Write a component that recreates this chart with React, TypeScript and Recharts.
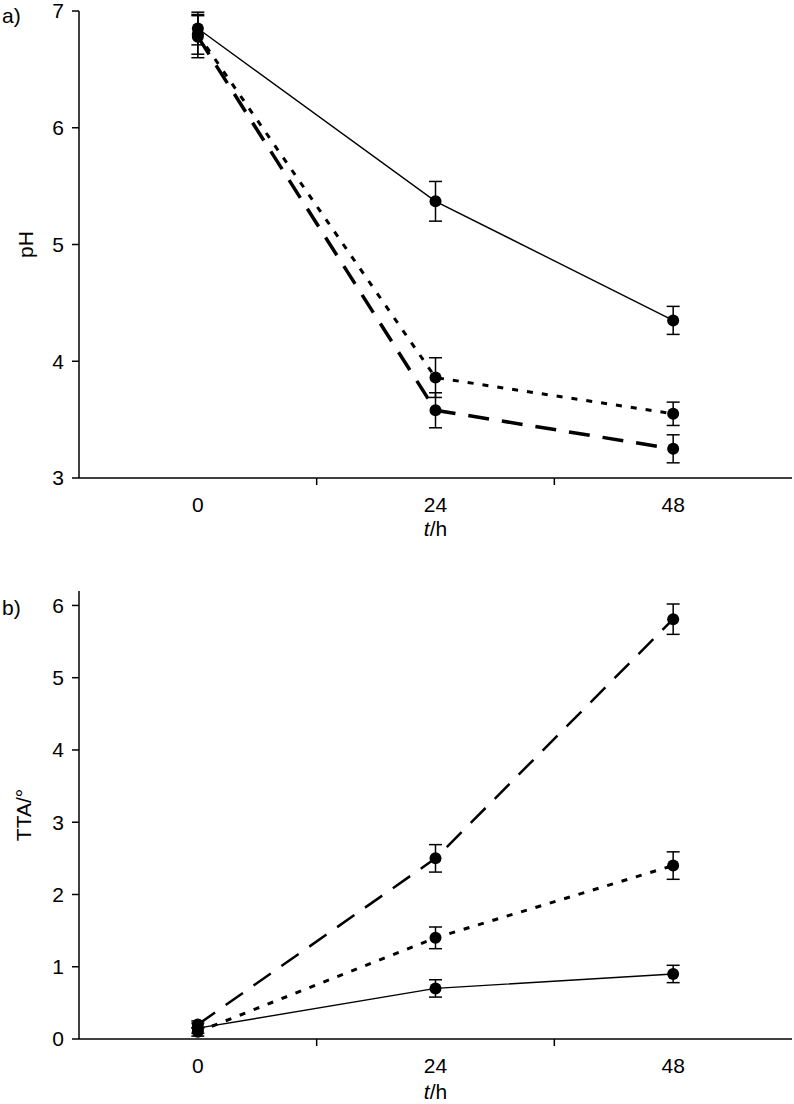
import React from 'react';
import { LineChart, Line, XAxis, YAxis, ErrorBar, Label } from 'recharts';

// ---- data ----
const times = [0, 24, 48];
const xTicks = [0, 12, 24, 36, 48];
const xLabeled = [0, 24, 48];

const phSolid = [6.85, 5.37, 4.35];
const phSolidErr = [0.14, 0.17, 0.12];
const phDotted = [6.8, 3.86, 3.55];
const phDottedErr = [0.17, 0.17, 0.1];
const phDashed = [6.78, 3.58, 3.25];
const phDashedErr = [0.18, 0.15, 0.12];
const phTicks = [3, 4, 5, 6, 7];

const ttaSolid = [0.15, 0.7, 0.9];
const ttaSolidErr = [0.07, 0.12, 0.12];
const ttaDotted = [0.1, 1.4, 2.4];
const ttaDottedErr = [0.06, 0.15, 0.19];
const ttaDashed = [0.2, 2.5, 5.81];
const ttaDashedErr = [0.05, 0.19, 0.21];
const ttaTicks = [0, 1, 2, 3, 4, 5, 6];

const phRows = times.map((t, i) => ({
  t,
  solid: phSolid[i], solidErr: phSolidErr[i],
  dotted: phDotted[i], dottedErr: phDottedErr[i],
  dashed: phDashed[i], dashedErr: phDashedErr[i],
}));
const ttaRows = times.map((t, i) => ({
  t,
  solid: ttaSolid[i], solidErr: ttaSolidErr[i],
  dotted: ttaDotted[i], dottedErr: ttaDottedErr[i],
  dashed: ttaDashed[i], dashedErr: ttaDashedErr[i],
}));

const FONT = '"Liberation Sans", Arial, sans-serif';
const FS = 21;

const XTick = (props: any) => {
  const { x, y, payload } = props;
  const v = payload.value;
  if (xLabeled.includes(v)) {
    return (
      <text x={x} y={y + 26} textAnchor="middle" dominantBaseline="central" fontFamily={FONT} fontSize={FS} fill="#000">
        {v}
      </text>
    );
  }
  return <line x1={x} x2={x} y1={y} y2={y + 7} stroke="#000" strokeWidth={1.5} />;
};

const yTitle = (text: string, cx: number) => (p: any) => {
  const vb = p.viewBox || {};
  const cy = (vb.y ?? 0) + (vb.height ?? 0) / 2;
  return (
    <text x={cx} y={cy} transform={`rotate(-90 ${cx} ${cy})`} textAnchor="middle" dominantBaseline="central" fontFamily={FONT} fontSize={FS} fill="#000">
      {text}
    </text>
  );
};

const xTitle = (dy: number) => (p: any) => {
  const vb = p.viewBox || {};
  const cx = (vb.x ?? 0) + (vb.width ?? 0) / 2;
  const cy = (vb.y ?? 0) + dy;
  return (
    <text x={cx} y={cy} textAnchor="middle" dominantBaseline="central" fontFamily={FONT} fontSize={FS} fill="#000">
      <tspan fontStyle="italic">t</tspan>/h
    </text>
  );
};

const dotStyle = { r: 6, fill: '#000', stroke: '#000', strokeWidth: 0 };
const axisLine = { stroke: '#000', strokeWidth: 1.5 };

function Panel(props: {
  rows: any[];
  height: number;
  top: number;
  xAxisHeight: number;
  yDomain: [number, number];
  yTicks: number[];
  yLabel: string;
  yLabelX: number;
  xLabelDy: number;
  dashedWidth: number;
}) {
  const { rows, height, top, xAxisHeight, yDomain, yTicks, yLabel, yLabelX, xLabelDy, dashedWidth } = props;
  return (
    <LineChart width={794} height={height} data={rows} margin={{ top, right: 2, bottom: 0, left: 0 }}>
      <XAxis
        dataKey="t"
        type="number"
        domain={[-12, 60]}
        ticks={xTicks}
        interval={0}
        allowDataOverflow
        tick={<XTick />}
        tickLine={false}
        tickSize={0}
        tickMargin={0}
        height={xAxisHeight}
        axisLine={axisLine}
      >
        <Label content={xTitle(xLabelDy)} />
      </XAxis>
      <XAxis xAxisId="top" orientation="top" type="number" domain={[-12, 60]} allowDataOverflow height={0} tick={false} tickLine={false} axisLine={axisLine} />
      <YAxis
        type="number"
        domain={yDomain}
        ticks={yTicks}
        interval={0}
        allowDataOverflow
        width={79}
        tickSize={7}
        tickMargin={8}
        tickLine={{ stroke: '#000', strokeWidth: 1.5 }}
        axisLine={axisLine}
        tick={{ fontFamily: FONT, fontSize: FS, fill: '#000' }}
      >
        <Label content={yTitle(yLabel, yLabelX)} />
      </YAxis>
      <YAxis yAxisId="right" orientation="right" type="number" domain={yDomain} allowDataOverflow width={0} tick={false} tickLine={false} axisLine={axisLine} />
      <Line type="linear" dataKey="solid" stroke="#000" strokeWidth={1.4} dot={dotStyle} activeDot={false} isAnimationActive={false}>
        <ErrorBar dataKey="solidErr" direction="y" width={6.5} stroke="#000" strokeWidth={1.5} />
      </Line>
      <Line type="linear" dataKey="dotted" stroke="#000" strokeWidth={3} strokeDasharray="6 9" dot={dotStyle} activeDot={false} isAnimationActive={false}>
        <ErrorBar dataKey="dottedErr" direction="y" width={6.5} stroke="#000" strokeWidth={1.5} />
      </Line>
      <Line type="linear" dataKey="dashed" stroke="#000" strokeWidth={dashedWidth} strokeDasharray="21 13" dot={dotStyle} activeDot={false} isAnimationActive={false}>
        <ErrorBar dataKey="dashedErr" direction="y" width={6.5} stroke="#000" strokeWidth={1.5} />
      </Line>
    </LineChart>
  );
}

export default function App() {
  return (
    <div style={{ position: 'absolute', left: 0, top: 0, width: 794, height: 1104, background: '#fff', fontFamily: FONT }}>
      <div style={{ position: 'absolute', left: 0, top: 0 }}>
        <Panel rows={phRows} height={550} top={11} xAxisHeight={72} yDomain={[3, 7]} yTicks={phTicks} yLabel="pH" yLabelX={25} xLabelDy={50} dashedWidth={3.5} />
      </div>
      <div style={{ position: 'absolute', left: 0, top: 550 }}>
        <Panel rows={ttaRows} height={554} top={41} xAxisHeight={65} yDomain={[0, 6.2]} yTicks={ttaTicks} yLabel="TTA/°" yLabelX={23} xLabelDy={52} dashedWidth={2.5} />
      </div>
      <svg width={794} height={1104} style={{ position: 'absolute', left: 0, top: 0, pointerEvents: 'none' }}>
        <text x={2} y={15} dominantBaseline="central" fontFamily={FONT} fontSize={FS} fill="#000">a)</text>
        <text x={2} y={607} dominantBaseline="central" fontFamily={FONT} fontSize={FS} fill="#000">b)</text>
      </svg>
    </div>
  );
}
